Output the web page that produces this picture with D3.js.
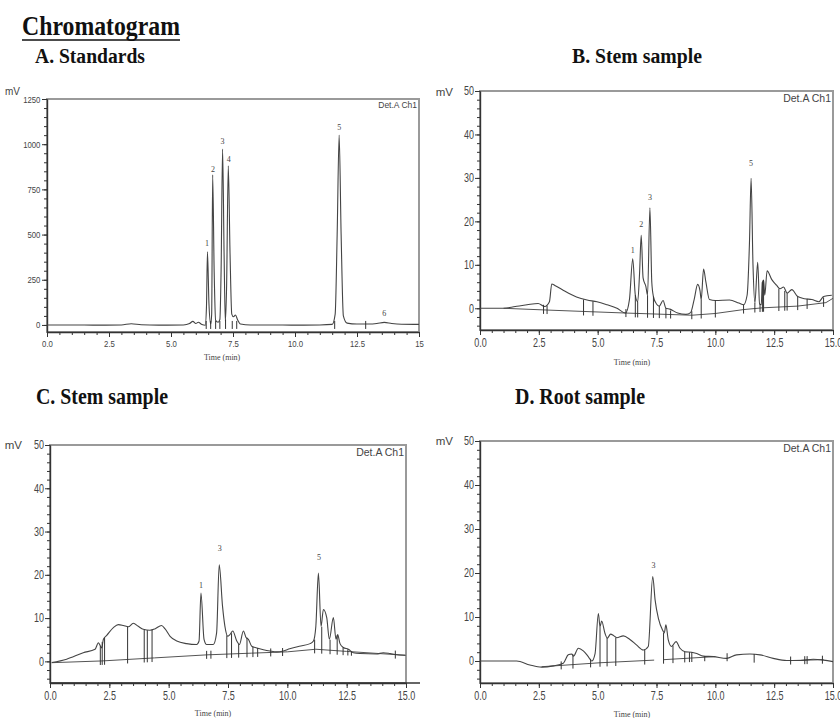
<!DOCTYPE html>
<html>
<head>
<meta charset="utf-8">
<script src="https://cdn.jsdelivr.net/npm/d3@7"></script>
<style>
    body { margin: 0; background: #fff; }
    svg { display: block; }
    .title { font-family: "Liberation Serif", "Times New Roman", serif; font-weight: bold; fill: #111; }
    .tick text { font-family: "Liberation Sans", Arial, sans-serif; fill: #444; }
    .axis path, .axis line { stroke: #333; }
    .unit, .det { font-family: "Liberation Sans", Arial, sans-serif; fill: #444; }
    .xlabel, .peak { font-family: "Liberation Serif", "Times New Roman", serif; fill: #444; }
</style>
</head>
<body>
<div id="chart"></div>
<script>
/*
Chromatogram panels: HPLC traces (Det.A Ch1) of the standards and three plant samples.
Each trace is a list of [time (min), signal] points.
*/

const timeTicks = [0, 2.5, 5, 7.5, 10, 12.5, 15];
const standardsTicks = [0, 250, 500, 750, 1000, 1250];
const sampleTicks = [0, 10, 20, 30, 40, 50];

// A. Standards (mV)
const standardsTrace = [[0,0],[1,0],[2,-1],[3,0],[3.4,7],[3.8,1],[4.5,-1],[5.5,0],[5.75,8],[5.88,20],[6.0,8],[6.1,15],[6.25,2],
    [6.38,-2],[6.43,100],[6.47,404],[6.53,120],[6.6,5],[6.64,60],[6.68,830],[6.74,300],[6.8,25],[6.9,15],[6.97,30],
    [7.02,300],[7.08,973],[7.14,400],[7.19,20],[7.24,200],[7.31,880],[7.38,400],[7.45,60],[7.52,45],[7.6,55],[7.68,30],
    [7.8,5],[8.2,0],[9,0],[10,-1],[11,0],[11.5,3],[11.62,60],[11.7,500],[11.78,1050],[11.86,500],[11.95,50],[12.1,10],
    [12.5,5],[13,5],[13.3,8],[13.6,14],[13.9,8],[14.3,4],[15,3]];
const standardsBase = [];
const standardsMarks = [[6.42,null],[6.6,null],[6.8,null],[6.97,null],[7.2,30],[7.47,null],[7.65,null],[11.6,null],[12.85,null]];
const standardsPeaks = [["1",6.45,453],["2",6.69,863],["3",7.08,1018],["4",7.33,918],["5",11.78,1095],["6",13.6,66]];

// B. Stem sample
const stemTraceB = [[0,0],[1,0],[1.5,0.4],[2.0,0.8],[2.47,1.1],[2.75,0.4],[2.95,1.5],[3.05,5.6],[3.2,5.2],[3.55,4.1],
    [4.1,2.6],[4.55,1.9],[4.97,1.5],[5.4,0.8],[5.82,0],[6.18,-1.1],[6.35,2],[6.49,11.4],[6.6,3],[6.7,1.5],[6.78,8],
    [6.85,16.8],[6.93,7],[7.05,5],[7.12,3],[7.22,23.1],[7.3,6],[7.37,2.7],[7.5,1],[7.62,0.5],[7.78,1.8],[7.9,0],
    [8.07,-0.2],[8.4,-1.1],[8.75,-1.4],[8.95,-1],[9.1,2],[9.25,5.5],[9.35,4],[9.4,2],[9.5,9],[9.6,6],[9.75,2],[10.0,1.8],
    [10.6,1.9],[11.0,1.2],[11.2,0.8],[11.35,3],[11.45,15],[11.52,29.9],[11.6,10],[11.68,1.2],[11.8,10.6],[11.88,1],
    [11.95,0.8],[12.0,6],[12.05,6.5],[12.1,3],[12.2,8.6],[12.4,6.6],[12.6,5.3],[12.75,4.5],[12.9,4.9],[13.05,3.5],
    [13.25,4.3],[13.5,2.7],[13.8,2.2],[14.1,2.0],[14.4,1.5],[14.6,2.7],[14.95,3.0]];
const stemBaseB = [[[1,0],[2.8,-0.4],[6.2,-1.1],[9.0,-1.6],[10.0,-1.2],[11.2,-0.3],[12.0,0.1],[13.5,0.5],[14.7,1.3],[15,2.3]]];
const stemMarksB = [[2.7,0.8],[2.85,0.6],[4.4,2.0],[4.8,1.6],[6.2,null],[6.6,3],[6.7,1.5],[7.12,3],[7.37,2.7],[7.62,0.5],
    [7.9,0],[8.1,null],[9.0,null],[9.4,2],[10.0,1.8],[11.2,0.8],[11.68,1.2],[11.9,1],[12.0,6],[12.05,6.5],[12.7,4.5],
    [12.95,4],[13.05,3.5],[13.5,2.7],[13.9,2.2],[14.6,2.5]];
const stemPeaksB = [["1",6.49,13.3],["2",6.85,19.3],["3",7.22,25.5],["5",11.52,33.5]];

// C. Stem sample
const stemTraceC = [[0.07,-0.3],[0.7,0.5],[1.4,2.0],[1.9,2.8],[2.04,4.3],[2.1,3.8],[2.18,3.1],[2.25,5.1],[2.39,6.0],
    [2.67,7.8],[2.88,8.5],[3.09,8.3],[3.3,8.0],[3.51,8.8],[3.72,8.1],[3.93,7.4],[4.21,7.2],[4.42,7.5],[4.7,8.3],
    [4.85,7.5],[5.06,5.8],[5.34,4.7],[5.76,4.1],[6.18,3.9],[6.28,4.7],[6.36,15.8],[6.49,5.1],[6.6,3.9],[6.88,3.9],
    [7.02,6.6],[7.13,22.3],[7.27,12.7],[7.37,8.1],[7.49,5.8],[7.58,6.2],[7.7,7.0],[7.87,4.7],[7.98,3.9],[8.15,7.0],
    [8.26,5.5],[8.36,5.1],[8.5,3.5],[8.71,3.1],[8.99,2.7],[9.27,2.4],[9.55,2.2],[9.83,2.4],[10.1,2.9],[10.5,3.5],
    [10.96,4.1],[11.1,4.7],[11.2,8],[11.31,20.4],[11.42,8.1],[11.52,12.0],[11.66,10.1],[11.77,5.1],[11.94,10.1],
    [12.05,5.1],[12.12,6.2],[12.22,4.1],[12.36,3.2],[12.57,2.8],[12.78,2.0],[13.06,1.8],[13.76,1.7],[14.04,2.0],
    [14.33,1.8],[14.54,1.6],[14.96,1.4]];
const stemBaseC = [[[0.1,-0.3],[2.2,0.1],[4.4,0.8],[6.6,1.5],[8.5,1.9],[10.0,2.2],[11.2,2.8],[12.5,2.3],[15.0,1.4]]];
const stemMarksC = [[2.12,3.5],[2.2,4.5],[2.3,5.5],[3.27,8.0],[3.97,7.3],[4.1,7.2],[4.3,7.3],[6.6,null],[6.78,null],
    [7.45,6],[7.65,6.5],[7.95,4],[8.3,5.5],[8.55,3.4],[8.75,3.1],[9.3,null],[9.8,null],[11.15,5],[11.45,8],[11.8,5],
    [12.1,6],[12.35,3.2],[12.55,2.8],[12.7,2.3],[14.55,null]];
const stemPeaksC = [["1",6.36,17.5],["3",7.15,26.2],["5",11.33,24]];

// D. Root sample
const rootTrace = [[0,0],[1.56,0],[2.12,-0.9],[2.62,-1.4],[3.12,-1.1],[3.54,-0.5],[3.75,1.4],[3.9,1.6],[3.97,1.1],
    [4.18,2.9],[4.39,2.3],[4.6,1.0],[4.75,0],[4.89,1.7],[5.03,10.8],[5.1,7.8],[5.17,9.1],[5.31,6.3],[5.41,5.2],
    [5.55,6.1],[5.67,5.8],[5.81,5.3],[6.09,5.7],[6.37,4.9],[6.66,3.6],[6.94,2.5],[7.15,3.3],[7.34,19.2],[7.44,13.9],
    [7.58,9.7],[7.76,7.0],[7.83,6.4],[7.9,8.2],[8.0,4.8],[8.14,3.3],[8.33,4.4],[8.5,2.9],[8.71,2.1],[8.99,2.0],
    [9.21,1.7],[9.49,1.1],[9.92,1.0],[10.48,0.6],[10.9,1.4],[11.47,1.6],[11.9,1.4],[12.46,0.6],[13.03,0.1],[13.6,0.1],
    [14.16,0.4],[14.6,0.2],[15.0,-0.15]];
const rootBase = [[[2.62,-1.3],[5.1,-0.4],[7.4,0.2]], [[7.8,0.3],[10.0,1.0]], [[13.2,0.1],[14.6,0.3]]];
const rootMarks = [[3.45,null],[3.95,1.5],[4.7,0.5],[5.1,7.8],[5.4,5.2],[5.77,5.3],[7.0,2.6],[7.8,6.4],[8.2,3.5],
    [8.7,2.1],[8.9,2.0],[9.0,2.0],[9.55,1.1],[10.5,null],[11.65,1.6],[13.2,null],[13.8,null],[13.9,null],[14.55,null]];
const rootPeaks = [["3",7.37,21.8]];


class ChromatogramVis {

    constructor(svg, cfg) {
        this.svg = svg;
        this.cfg = cfg;
        this.initVis();
    }

    initVis() {
        let vis = this;
        let c = vis.cfg;

        vis.g = vis.svg.append('g');

        vis.x = d3.scaleLinear().domain([0, 15]).range([c.left, c.right]);
        vis.y = d3.scaleLinear().domain(c.yDomain).range([c.bottom, c.top]);

        // baseline value at any time, for the drop lines
        let pts = c.base.flat().sort((a, b) => a[0] - b[0]);
        vis.baseAt = pts.length
            ? d3.scaleLinear().domain(pts.map(d => d[0])).range(pts.map(d => d[1])).clamp(true)
            : () => 0;

        vis.line = d3.line()
            .x(d => vis.x(d[0]))
            .y(d => vis.y(d[1]))
            .curve(d3.curveMonotoneX);

        vis.updateVis();
    }

    updateVis() {
        let vis = this;
        let c = vis.cfg;

        // frame (top/right in light grey)
        vis.g.append('rect')
            .attr('x', c.left).attr('y', c.top)
            .attr('width', (c.frameRight || c.right) - c.left)
            .attr('height', c.bottom - c.top)
            .attr('fill', 'none')
            .attr('stroke', '#9a9a9a')
            .attr('stroke-width', 2);

        // minor ticks
        vis.g.append('g')
            .attr('class', 'axis')
            .attr('transform', `translate(${c.left},0)`)
            .call(d3.axisLeft(vis.y).tickValues(c.yMinor).tickSize(3).tickSizeOuter(0).tickFormat(''));
        vis.g.append('g')
            .attr('class', 'axis')
            .attr('transform', `translate(0,${c.bottom})`)
            .call(d3.axisBottom(vis.x).tickValues(d3.range(0, 15.01, 0.5)).tickSize(3).tickSizeOuter(0).tickFormat(''));

        // major ticks + labels
        let yAxis = vis.g.append('g')
            .attr('class', 'axis')
            .attr('transform', `translate(${c.left},0)`)
            .call(d3.axisLeft(vis.y).tickValues(c.yTicks).tickSize(5).tickSizeOuter(0).tickPadding(3)
                .tickFormat(d3.format('d')));
        let xAxis = vis.g.append('g')
            .attr('class', 'axis')
            .attr('transform', `translate(0,${c.bottom})`)
            .call(d3.axisBottom(vis.x).tickValues(timeTicks).tickSize(5).tickSizeOuter(0).tickPadding(3)
                .tickFormat(c.xFormat));
        [yAxis, xAxis].forEach(a => {
            a.selectAll('path').attr('stroke-width', 1.4);
            a.selectAll('text')
                .style('font-size', c.tickFont + 'px')
                .attr('transform', `scale(${c.squeeze},1)`);
        });

        if (c.axisExtend) {
            vis.g.append('line')
                .attr('x1', c.left).attr('x2', c.axisExtend)
                .attr('y1', c.bottom).attr('y2', c.bottom)
                .attr('stroke', '#333').attr('stroke-width', 1.4);
        }

        // baselines
        c.base.forEach(seg => {
            vis.g.append('path')
                .datum(seg)
                .attr('d', d3.line().x(d => vis.x(d[0])).y(d => vis.y(d[1])))
                .attr('fill', 'none')
                .attr('stroke', '#555')
                .attr('stroke-width', 1);
        });

        // signal
        vis.g.append('path')
            .datum(c.trace)
            .attr('d', vis.line)
            .attr('fill', 'none')
            .attr('stroke', '#444')
            .attr('stroke-width', 1.1);

        // integration marks / drop lines
        vis.g.selectAll('.mark')
            .data(c.marks)
            .enter().append('line')
            .attr('class', 'mark')
            .attr('x1', d => vis.x(d[0])).attr('x2', d => vis.x(d[0]))
            .attr('y1', d => d[1] == null ? vis.y(vis.baseAt(d[0])) - 4 : vis.y(d[1]))
            .attr('y2', d => vis.y(vis.baseAt(d[0])) + 4)
            .attr('stroke', '#333')
            .attr('stroke-width', 1);

        // peak numbers
        vis.g.selectAll('.peak')
            .data(c.peaks)
            .enter().append('text')
            .attr('class', 'peak')
            .attr('x', d => vis.x(d[1]))
            .attr('y', d => vis.y(d[2]))
            .attr('dy', '0.35em')
            .attr('text-anchor', 'middle')
            .style('font-size', '8px')
            .text(d => d[0]);

        // texts
        vis.g.append('text')
            .attr('class', 'det')
            .attr('x', (c.frameRight || c.right) - 2)
            .attr('y', c.top + c.detDy)
            .attr('text-anchor', 'end')
            .style('font-size', c.detFont + 'px')
            .text('Det.A Ch1');

        vis.g.append('text')
            .attr('class', 'unit')
            .attr('x', c.unitX)
            .attr('y', c.unitY)
            .attr('text-anchor', 'end')
            .style('font-size', c.unitFont + 'px')
            .text('mV');

        vis.g.append('text')
            .attr('class', 'xlabel')
            .attr('x', vis.x(c.timeAt))
            .attr('y', c.timeY)
            .attr('text-anchor', 'middle')
            .style('font-size', '8px')
            .text('Time (min)');

        vis.g.append('text')
            .attr('class', 'title')
            .attr('x', c.titleX)
            .attr('y', c.titleY)
            .attr('textLength', c.titleW)
            .attr('lengthAdjust', 'spacingAndGlyphs')
            .style('font-size', c.titleFont + 'px')
            .text(c.title);
    }
}


let svg = d3.select('#chart').append('svg')
    .attr('width', 840)
    .attr('height', 718);

svg.append('rect').attr('width', 840).attr('height', 718).attr('fill', '#fff');

svg.append('text')
    .attr('class', 'title')
    .attr('x', 22).attr('y', 35)
    .attr('textLength', 158)
    .attr('lengthAdjust', 'spacingAndGlyphs')
    .style('font-size', '28px')
    .text('Chromatogram');
svg.append('line')
    .attr('x1', 22).attr('x2', 180)
    .attr('y1', 40).attr('y2', 40)
    .attr('stroke', '#111').attr('stroke-width', 1.6);

let sampleMinor = d3.range(-4, 50.1, 2);
let fmt1 = d3.format('.1f');

new ChromatogramVis(svg, {
    title: 'A. Standards', titleX: 35, titleY: 63, titleW: 110, titleFont: 20,
    left: 47, right: 419, top: 99, bottom: 332, yDomain: [-39, 1250],
    yTicks: standardsTicks, yMinor: d3.range(0, 1250.1, 50),
    xFormat: d => d === 15 ? '15' : fmt1(d),
    tickFont: 9.5, squeeze: 0.82, detFont: 8.5, detDy: 9, unitX: 20, unitY: 95, unitFont: 10,
    timeAt: 7.06, timeY: 360,
    trace: standardsTrace, base: standardsBase, marks: standardsMarks, peaks: standardsPeaks
});

new ChromatogramVis(svg, {
    title: 'B. Stem sample', titleX: 572, titleY: 63, titleW: 130, titleFont: 20,
    left: 480, right: 833, top: 91, bottom: 330, yDomain: [-5, 50],
    yTicks: sampleTicks, yMinor: sampleMinor, xFormat: fmt1,
    tickFont: 12, squeeze: 0.75, detFont: 10.5, detDy: 11, unitX: 453, unitY: 96, unitFont: 11.5,
    timeAt: 6.46, timeY: 365,
    trace: stemTraceB, base: stemBaseB, marks: stemMarksB, peaks: stemPeaksB
});

new ChromatogramVis(svg, {
    title: 'C. Stem sample', titleX: 36, titleY: 404, titleW: 132, titleFont: 23,
    left: 50, right: 406, top: 445, bottom: 683, yDomain: [-5, 50], axisExtend: 420,
    yTicks: sampleTicks, yMinor: sampleMinor, xFormat: fmt1,
    tickFont: 12, squeeze: 0.75, detFont: 10.5, detDy: 11, unitX: 22, unitY: 449, unitFont: 11.5,
    timeAt: 6.87, timeY: 716,
    trace: stemTraceC, base: stemBaseC, marks: stemMarksC, peaks: stemPeaksC
});

new ChromatogramVis(svg, {
    title: 'D. Root sample', titleX: 515, titleY: 404, titleW: 130, titleFont: 23,
    left: 480, right: 833, top: 441, bottom: 683, yDomain: [-5, 50],
    yTicks: sampleTicks, yMinor: sampleMinor, xFormat: fmt1,
    tickFont: 12, squeeze: 0.75, detFont: 10.5, detDy: 11, unitX: 453, unitY: 445, unitFont: 11.5,
    timeAt: 6.46, timeY: 717,
    trace: rootTrace, base: rootBase, marks: rootMarks, peaks: rootPeaks
});
</script>
</body>
</html>
